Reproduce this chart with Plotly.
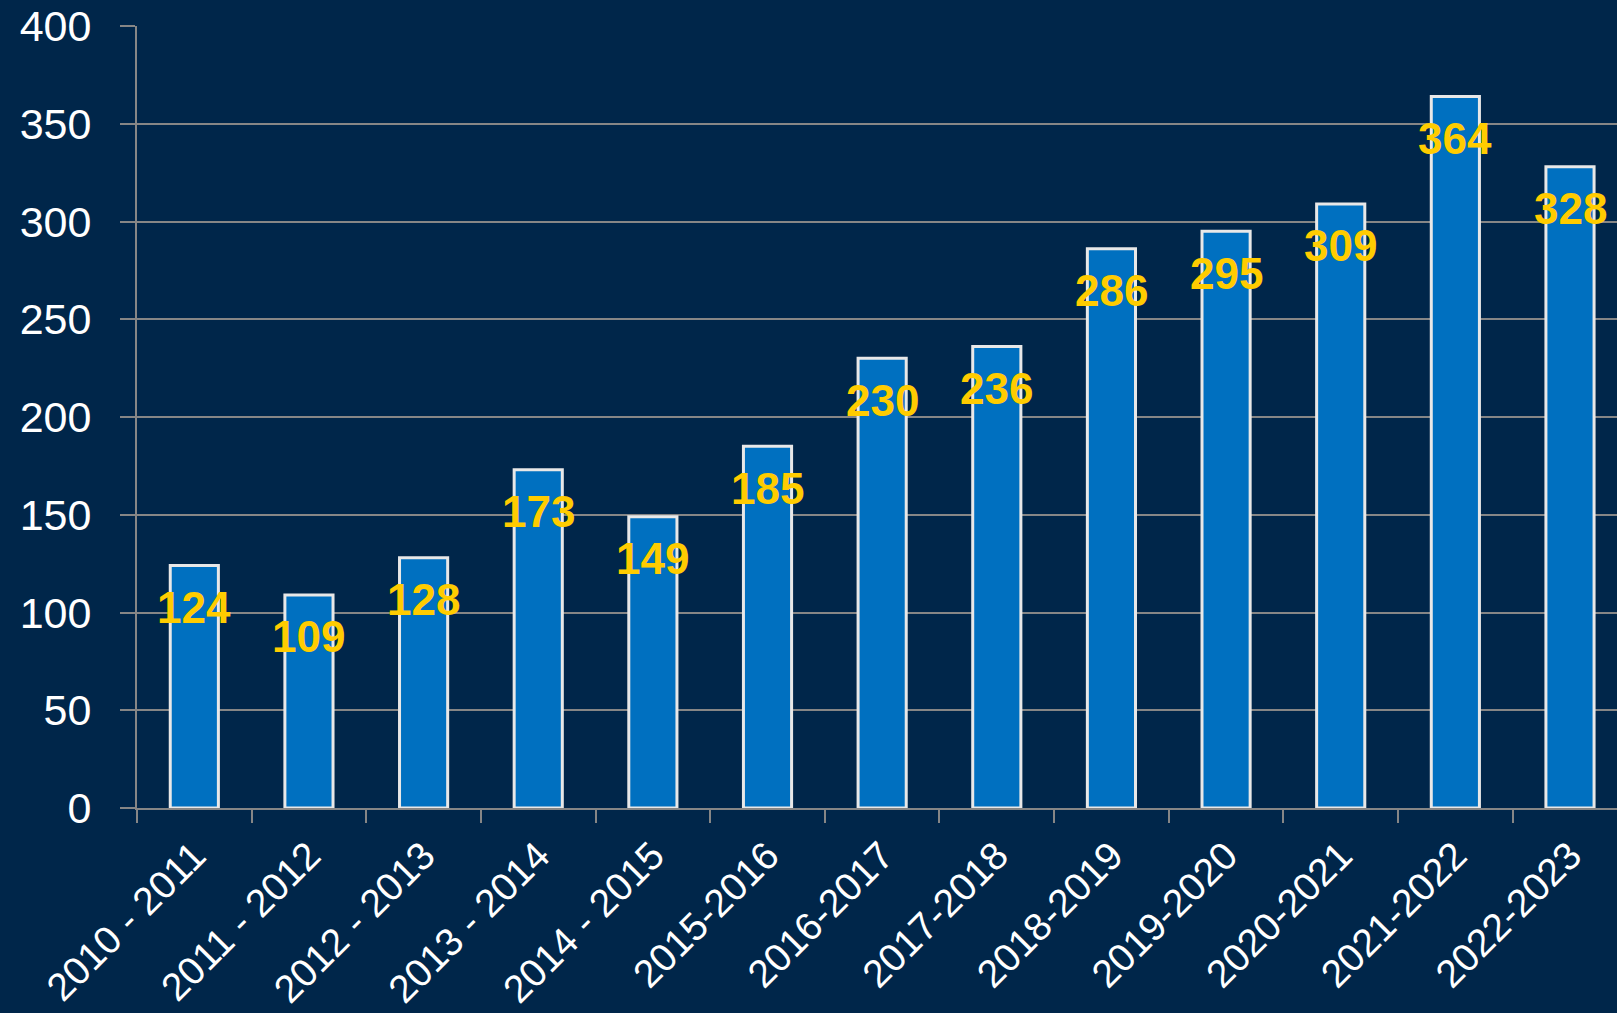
import plotly.graph_objects as go

categories = ["2010 - 2011", "2011 - 2012", "2012 - 2013", "2013 - 2014", "2014 - 2015",
              "2015-2016", "2016-2017", "2017-2018", "2018-2019", "2019-2020",
              "2020-2021", "2021-2022", "2022-2023"]
values = [124, 109, 128, 173, 149, 185, 230, 236, 286, 295, 309, 364, 328]
y_ticks = [0, 50, 100, 150, 200, 250, 300, 350, 400]

BG = "#00264a"
GRID = "#868686"

fig = go.Figure()
fig.add_trace(go.Bar(
    x=categories, y=values, width=0.42,
    marker=dict(color="#0070c0", line=dict(color="#e8e8e8", width=3)),
    hoverinfo="skip", showlegend=False,
))

for c, v in zip(categories, values):
    fig.add_annotation(x=c, y=v, text=f"<b>{v}</b>", showarrow=False,
                       yanchor="middle", xanchor="center", yshift=-42,
                       font=dict(family="Liberation Sans, Arial", size=44, color="#ffcc00"))

fig.update_layout(
    width=1617, height=1013,
    paper_bgcolor=BG, plot_bgcolor=BG,
    margin=dict(l=137, r=0, t=26, b=205),
    bargap=0.58,
    font=dict(family="Liberation Sans, Arial", color="white"),
)
fig.update_xaxes(
    type="category", range=[-0.5, 12.41], automargin=False,
    tickangle=-45, tickfont=dict(size=39, color="white"),
    ticks="outside", tickson="boundaries", ticklen=13, tickwidth=2, tickcolor=GRID,
    ticklabelstandoff=7,
    showline=True, linecolor=GRID, linewidth=2, showgrid=False,
)
fig.update_yaxes(
    range=[0, 400], tickvals=y_ticks, ticktext=[str(t) for t in y_ticks], automargin=False,
    tickfont=dict(size=43, color="white"),
    ticks="outside", ticklen=15, tickwidth=2, tickcolor=GRID,
    ticklabelstandoff=20,
    showline=True, linecolor=GRID, linewidth=2,
    showgrid=True, gridcolor=GRID, gridwidth=2, zeroline=False,
)

fig.write_html("out.html", config={"displayModeBar": False},
               post_script="document.body.style.margin='0';document.body.style.overflow='hidden';document.body.style.background='" + BG + "';")
